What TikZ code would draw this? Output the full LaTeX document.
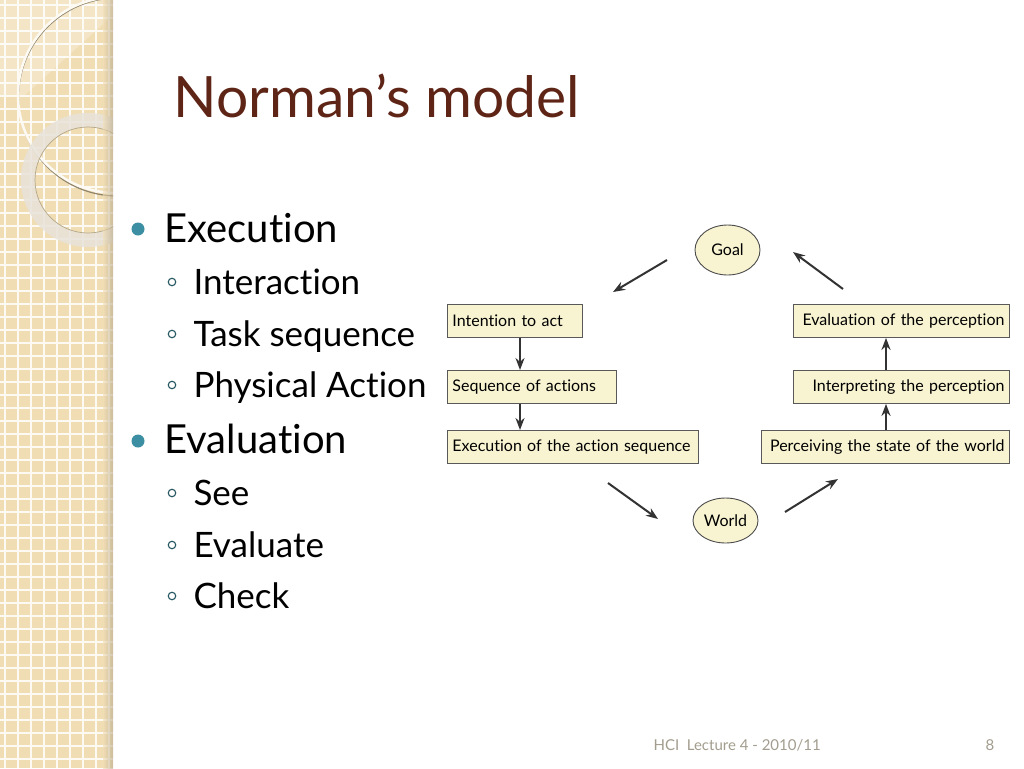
\documentclass[tikz,border=0pt]{standalone}
\usepackage{fontspec}
\setmainfont{Lato}[Ligatures=NoCommon]
\usetikzlibrary{positioning,shapes.geometric,arrows.meta}
\definecolor{titlebrown}{HTML}{5E2416}
\definecolor{bulletteal}{HTML}{3C8FA2}
\definecolor{bandbeige}{HTML}{F0DDB4}
\definecolor{ringgray}{HTML}{E8E3DA}
\definecolor{boxfill}{HTML}{F8F4D2}
\definecolor{footgray}{HTML}{A29D8E}
\begin{document}
\begin{tikzpicture}[x=1pt,y=-1pt,
  box/.style={rectangle,draw=black!65,fill=boxfill,line width=0.9pt,minimum height=33pt,
              inner xsep=5pt,inner ysep=4pt,anchor=north west,font=\fontsize{16}{18}\selectfont},
  oval/.style={ellipse,draw=black!70,fill=boxfill,line width=0.9pt,inner sep=0pt,
               minimum width=65pt,font=\fontsize{16}{18}\selectfont},
  flow/.style={-{Stealth[length=12pt,width=9pt]},line width=2pt,draw=black!80},
  head/.style={anchor=base west,font=\fontsize{40}{44}\selectfont},
  item/.style={anchor=base west,font=\fontsize{35}{40}\selectfont},
  dot/.style={circle,fill=bulletteal,inner sep=0pt,minimum size=13pt},
  ring/.style={circle,draw=bulletteal!60!black,line width=1.1pt,inner sep=0pt,minimum size=7.5pt}]
\useasboundingbox[fill=white] (0,0) rectangle (1024,768);
% left band
\fill[bandbeige] (0,0) rectangle (113,768);
\begin{scope}
 \clip (0,0) rectangle (113,768);
 \foreach \gx in {5,18,...,109} \draw[white!85!bandbeige,line width=1.1pt] (\gx,0) -- (\gx,768);
 \foreach \gy in {5,18,...,766} \draw[white!85!bandbeige,line width=1.1pt] (0,\gy) -- (113,\gy);
 \fill[white,opacity=.25] (0,0) -- (113,0) -- (113,15) -- (25,95) -- (0,95) -- cycle;
 \draw[black!40!bandbeige,line width=1.2pt] (117.5,97) circle (99);
 \draw[white!85!bandbeige,line width=2.5pt] (116,95) circle (98);
 \draw[ringgray,opacity=.85,line width=14pt] (88,180) circle (60);
 \draw[black!25!bandbeige,line width=.7pt] (88,180) circle (53);
 \shade[left color=bandbeige,right color=bandbeige!75!black,opacity=.6] (103,0) rectangle (113,768);
\end{scope}
% title
\node[anchor=base west,text=titlebrown,font=\fontsize{57}{62}\selectfont] (title) at (170,117) {Norman’s model};
% bullets
\node[dot] (b1) at (138,229) {};
\node[head] (exec) at (161,242) {Execution};
\node[dot] (b2) at (138,441) {};
\node[head] (evl) at (161,453) {Evaluation};
\foreach \y/\txt in {294/Interaction,346/Task sequence,397/Physical Action,505/See,557/Evaluate,608/Check}{
  \node[ring] at (172,\y-12) {};
  \node[item] at (190,\y) {\txt};
}
% diagram
\node[oval,minimum height=50pt] (goal) at (727.5,250) {Goal};
\node[oval,minimum height=45pt] (world) at (725.5,520.5) {World};
\node[box,minimum width=135pt,text width=125pt,align=left] (intent) at (447,304) {Intention to act};
\node[box,minimum width=169pt,text width=159pt,align=left] (seqact) at (447,370) {Sequence of actions};
\node[box,minimum width=251pt,text width=241pt,align=left] (execseq) at (447,430) {\mbox{Execution of the action sequence}};
\node[box,minimum width=216pt,text width=206pt,align=right] (evalperc) at (793,304) {Evaluation of the perception};
\node[box,minimum width=216pt,text width=206pt,align=right] (interp) at (793,370) {Interpreting the perception};
\node[box,minimum width=248pt,text width=238pt,align=right] (perceive) at (761,430) {\mbox{Perceiving the state of the world}};
\draw[flow] (intent.south -| 520,0) -- (seqact.north -| 520,0);
\draw[flow] (seqact.south -| 520,0) -- (execseq.north -| 520,0);
\draw[flow] (perceive.north -| 886,0) -- (interp.south -| 886,0);
\draw[flow] (interp.north -| 886,0) -- (evalperc.south -| 886,0);
\coordinate (ga) at (667,260);
\coordinate (gb) at (613,292);
\coordinate (ea) at (843,289);
\coordinate (eb) at (793,252);
\coordinate (wa) at (608,483);
\coordinate (wb) at (658,519);
\coordinate (pa) at (785,512);
\coordinate (pb) at (838,479);
\draw[flow] (ga) -- (gb);
\draw[flow] (ea) -- (eb);
\draw[flow] (wa) -- (wb);
\draw[flow] (pa) -- (pb);
% footer
\node[anchor=base west,text=footgray,font=\fontsize{15}{17}\selectfont] (foot) at (650,750) {HCI\ \ Lecture 4 - 2010/11};
\node[anchor=base,text=footgray,font=\fontsize{15}{17}\selectfont] (pagenum) at (990,750) {8};
\end{tikzpicture}
\end{document}
